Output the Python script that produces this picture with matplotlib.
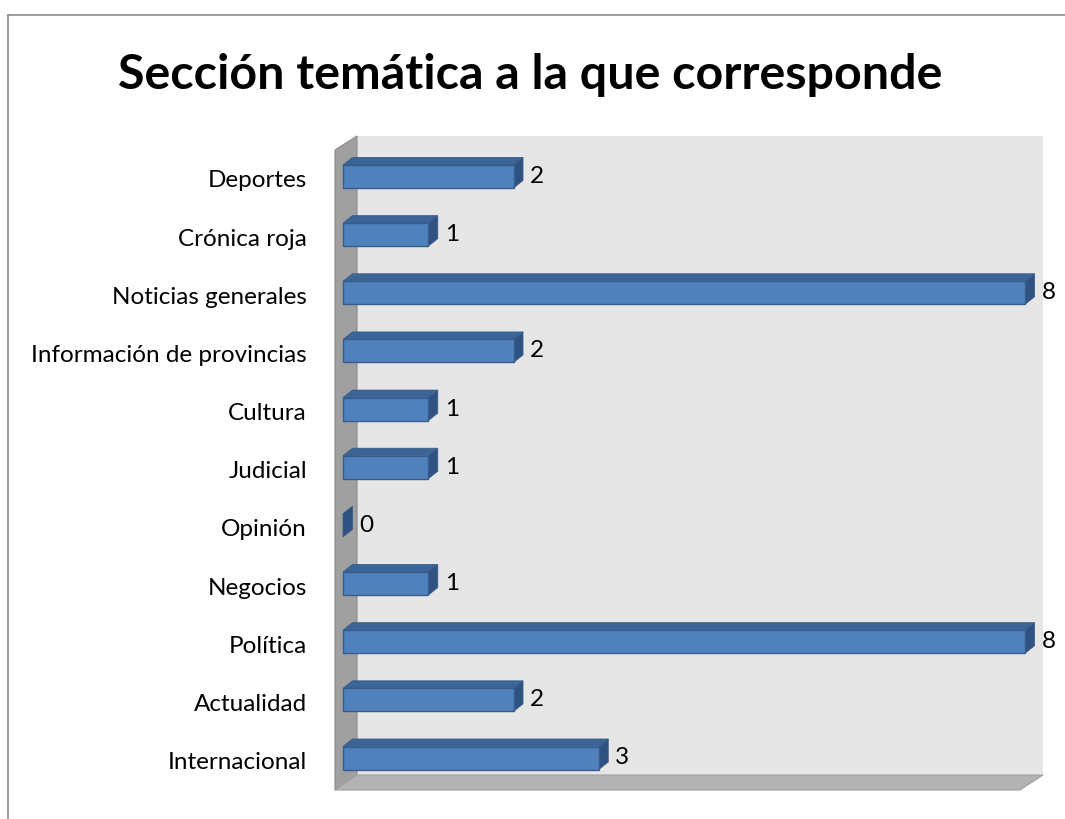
import matplotlib
matplotlib.use("Agg")
import matplotlib.pyplot as plt
from matplotlib.patches import Polygon, Rectangle

categories = ["Internacional", "Actualidad", "Política", "Negocios", "Opinión",
              "Judicial", "Cultura", "Información de provincias",
              "Noticias generales", "Crónica roja", "Deportes"]
values = [3, 2, 8, 1, 0, 1, 1, 2, 8, 1, 2]
title = "Sección temática a la que corresponde"

plt.rcParams['font.family'] = ['Lato', 'DejaVu Sans']

W, H = 1065, 819
fig = plt.figure(figsize=(W / 100, H / 100), dpi=100)

# pixel geometry of the plotting frame
px0, pxunit = 343.0, 85.25      # x pixel of value 0, pixels per unit
py0, pyunit = 758.0, 58.15      # y pixel (from top) of first category, pixels per category

ax_l, ax_r, ax_t, ax_b = 320, 1060, 120, 805
ax = fig.add_axes([ax_l / W, 1 - ax_b / H, (ax_r - ax_l) / W, (ax_b - ax_t) / H])
ax.set_xlim((ax_l - px0) / pxunit, (ax_r - px0) / pxunit)
ax.set_ylim((py0 - ax_b) / pyunit, (py0 - ax_t) / pyunit)
ax.axis("off")

def X(px):
    return (px - px0) / pxunit

def Y(py):
    return (py0 - py) / pyunit

# walls
back_wall = Polygon([(X(357), Y(775)), (X(1043), Y(775)), (X(1043), Y(136)), (X(357), Y(136))],
                    closed=True, facecolor="#e6e6e6", edgecolor="none", zorder=1)
left_wall = Polygon([(X(335), Y(790)), (X(357), Y(775)), (X(357), Y(136)), (X(335), Y(150))],
                    closed=True, facecolor="#a0a0a0", edgecolor="#8a8a8a", lw=0.8, zorder=2)
floor = Polygon([(X(335), Y(790)), (X(1020), Y(790)), (X(1043), Y(775)), (X(357), Y(775))],
                closed=True, facecolor="#b3b3b3", edgecolor="#a0a0a0", lw=0.8, zorder=2)
for p in (back_wall, left_wall, floor):
    ax.add_patch(p)

# bars with 3D effect
h = 23 / pyunit
dx = 9.5 / pxunit
dy = 7.5 / pyunit
label_shift = 4.5 / pyunit
front_c, top_c, side_c, edge_c = "#4f81bd", "#3c6597", "#2f5282", "#385d8a"
for i, v in enumerate(values):
    c = i
    yb, yt = c - h / 2, c + h / 2
    side = Polygon([(v, yb), (v + dx, yb + dy), (v + dx, yt + dy), (v, yt)],
                   closed=True, facecolor=side_c, edgecolor=edge_c, lw=0.6, zorder=4)
    top = Polygon([(0, yt), (v, yt), (v + dx, yt + dy), (dx, yt + dy)],
                  closed=True, facecolor=top_c, edgecolor=edge_c, lw=0.6, zorder=4)
    ax.add_patch(side)
    ax.add_patch(top)
    if v > 0:
        front = Rectangle((0, yb), v, h, facecolor=front_c, edgecolor=edge_c, lw=1.0, zorder=5)
        ax.add_patch(front)
    ax.text(v + dx + 7 / pxunit, c, str(v), ha="left", va="center", fontsize=17.5,
            color="black", zorder=6)
    ax.text(X(307), c - label_shift, categories[i], ha="right", va="center", fontsize=17.5,
            color="black", zorder=6)

fig.text(530 / W, 1 - 75 / H, title, ha="center", va="center", fontsize=34.8,
         fontweight="bold", color="black")

# outer chart border
fig.add_artist(plt.Line2D([8 / W, 8 / W], [0, 1 - 15 / H], color="#8c8c8c", lw=1.2))
fig.add_artist(plt.Line2D([8 / W, 1], [1 - 15 / H, 1 - 15 / H], color="#8c8c8c", lw=1.2))

fig.savefig("out.png", dpi=100, facecolor="white")
